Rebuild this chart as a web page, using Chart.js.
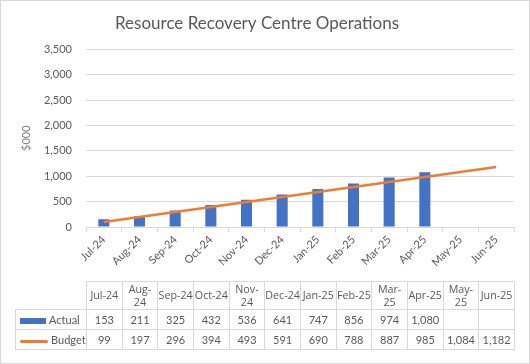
<!DOCTYPE html>
<html>
<head>
<meta charset="utf-8">
<script src="https://cdn.jsdelivr.net/npm/chart.js@4/dist/chart.umd.min.js"></script>
<style>
  body { margin: 0; background: #fff; }
  #wrap { position: relative; width: 530px; height: 364px; font-family: Lato, sans-serif; }
  #frame { position: absolute; left: 0; top: 0; width: 528px; height: 362px; border: 1px solid #d9d9d9; pointer-events: none; }
  #tbl { position: absolute; left: 15px; top: 281px; border-collapse: collapse; table-layout: fixed; font-size: 11px; color: #595959; }
  #tbl td { border: 1px solid #d9d9d9; text-align: center; padding: 0; line-height: 13px; }
  #tbl tr.hd td { height: 27px; font-family: 'Open Sans', sans-serif; font-size: 10.7px; }
  #tbl tr.rw td { height: 19px; }
  #tbl td.lg { text-align: left; white-space: nowrap; }
  .sw { display: inline-block; vertical-align: middle; margin: 0 3px 0 4px; }
</style>
</head>
<body>
<div id="wrap">
  <canvas id="rrcChart"></canvas>
  <table id="tbl"></table>
  <div id="frame"></div>
</div>
<script>
var months = ['Jul-24', 'Aug-24', 'Sep-24', 'Oct-24', 'Nov-24', 'Dec-24', 'Jan-25', 'Feb-25', 'Mar-25', 'Apr-25', 'May-25', 'Jun-25'];
var actual = [153, 211, 325, 432, 536, 641, 747, 856, 974, 1080, null, null];
var budget = [99, 197, 296, 394, 493, 591, 690, 788, 887, 985, 1084, 1182];
var yTicks = [0, 500, 1000, 1500, 2000, 2500, 3000, 3500];

var blue = '#4472C4';
var orange = '#ED7D31';
var grey = '#595959';

function fmt(v) {
  return v == null ? '' : v.toLocaleString('en-US');
}

// data table under the chart
var tbl = document.getElementById('tbl');
var html = '<colgroup><col style="width:71px">';
for (var i = 0; i < months.length; i++) html += '<col style="width:35.67px">';
html += '</colgroup><tr class="hd"><td style="border:none"></td>';
for (var i = 0; i < months.length; i++) html += '<td>' + months[i] + '</td>';
html += '</tr><tr class="rw"><td class="lg"><span class="sw" style="width:26px;height:6px;background:' + blue + '"></span>Actual</td>';
for (var i = 0; i < months.length; i++) html += '<td>' + fmt(actual[i]) + '</td>';
html += '</tr><tr class="rw"><td class="lg"><span class="sw" style="width:28px;height:3px;border-radius:2px;background:' + orange + '"></span>Budget</td>';
for (var i = 0; i < months.length; i++) html += '<td>' + fmt(budget[i]) + '</td>';
html += '</tr>';
tbl.innerHTML = html;

var ctx = document.getElementById('rrcChart');
new Chart(ctx, {
  type: 'bar',
  data: {
    labels: months,
    datasets: [{
      type: 'line',
      label: 'Budget',
      data: budget,
      borderColor: orange,
      backgroundColor: orange,
      borderWidth: 2.5,
      pointRadius: 0,
      tension: 0,
      order: 1
    },
    {
      label: 'Actual',
      data: actual,
      backgroundColor: blue,
      barPercentage: 0.31,
      categoryPercentage: 1,
      order: 2
    }]
  },
  options: {
    responsive: true,
    maintainAspectRatio: false,
    animation: false,
    layout: {
      padding: { top: 0, left: 0, right: 16, bottom: 87 }
    },
    plugins: {
      legend: { display: false },
      tooltip: { enabled: false },
      title: {
        display: true,
        text: 'Resource Recovery Centre Operations',
        color: grey,
        font: { family: 'Lato', size: 17, weight: 'normal' },
        padding: { top: 13, bottom: 16 }
      }
    },
    scales: {
      y: {
        min: 0,
        max: 3500,
        afterBuildTicks: function (scale) {
          scale.ticks = yTicks.map(function (v) { return { value: v }; });
        },
        afterFit: function (scale) { scale.width = 86; },
        border: { display: false },
        grid: { color: '#d9d9d9', drawTicks: false },
        ticks: {
          color: grey,
          padding: 14,
          font: { family: 'Lato', size: 11 },
          callback: function (v) { return fmt(v); }
        },
        title: {
          display: true,
          text: '$000',
          color: '#7f7f7f',
          font: { family: 'Lato', size: 11 },
          padding: { top: 20, bottom: 0 }
        }
      },
      x: {
        afterFit: function (scale) { scale.height = 50; },
        border: { display: true, color: '#d9d9d9' },
        grid: { offset: true, drawOnChartArea: false, drawTicks: true, tickLength: 5, color: '#d9d9d9' },
        ticks: {
          color: grey,
          minRotation: 45,
          maxRotation: 45,
          padding: 1,
          font: { family: 'Lato', size: 11 }
        }
      }
    }
  }
});
</script>
</body>
</html>
